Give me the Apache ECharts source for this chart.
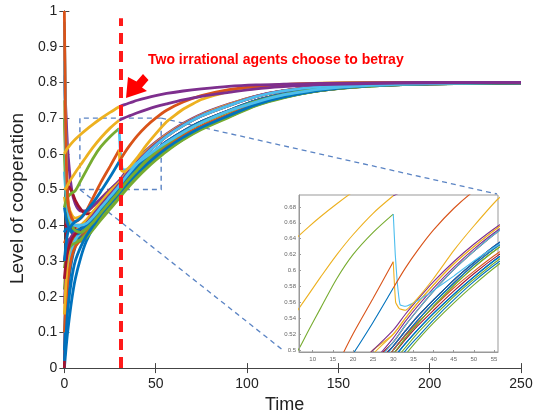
<!DOCTYPE html>
<html lang="en">
<head>
<meta charset="UTF-8">
<title>Level of cooperation</title>
<script src="https://cdn.jsdelivr.net/npm/echarts@6.0.0/dist/echarts.min.js"></script>
<style>
  html, body { margin: 0; padding: 0; background: #fff; }
  #main { width: 536px; height: 419px; }
</style>
</head>
<body>
<div id="main"></div>
<script>
// time samples shared by the bundle of agents
var T = [0, 1, 2, 4, 6, 9, 12, 16, 20, 25, 30, 33, 36, 40, 45, 50, 56, 65, 75, 90, 105, 120, 140, 165, 200, 250];
var tEarly = [0, 1, 2, 4, 6, 9, 12, 16, 20, 25, 30];
var tLate = [30, 33, 36, 40, 45, 50, 56, 65, 75, 90, 105, 120, 140, 165, 200, 250];

var bundleColors = ['B', 'O', 'Y', 'P', 'G', 'C', 'R', 'B', 'O', 'Y', 'P', 'G', 'C', 'R', 'B', 'O', 'Y', 'P', 'G', 'C', 'R', 'B', 'B', 'G', 'C'];
var bundleValues = [
  [0, 0.06, 0.11, 0.19, 0.25, 0.31, 0.355, 0.395, 0.425, 0.455, 0.48, .499, .516, .538, .563, .586, .610, .641, .670, .704, .736, .758, .777, .789, .796, .799],
  [0.95, 0.62, 0.47, 0.41, 0.39, 0.385, 0.395, 0.415, 0.44, 0.47, 0.5, .519, .537, .559, .584, .607, .631, .661, .689, .720, .748, .767, .783, .792, .797, .799],
  [0.75, 0.55, 0.46, 0.43, 0.42, 0.425, 0.435, 0.455, 0.475, 0.5, 0.52, .540, .559, .582, .608, .630, .654, .683, .709, .738, .761, .776, .788, .795, .798, .800],
  [0.82, 0.7, 0.6, 0.5, 0.46, 0.44, 0.44, 0.455, 0.475, 0.5, 0.525, .545, .563, .586, .611, .633, .656, .685, .711, .739, .762, .777, .789, .795, .798, .800],
  [0.22, 0.29, 0.33, 0.35, 0.355, 0.37, 0.39, 0.42, 0.445, 0.47, 0.495, .515, .533, .555, .581, .604, .628, .659, .687, .719, .747, .766, .782, .792, .797, .799],
  [0.97, 0.6, 0.45, 0.4, 0.385, 0.38, 0.385, 0.405, 0.43, 0.46, 0.49, .508, .525, .546, .570, .592, .616, .646, .674, .707, .738, .759, .778, .790, .796, .799],
  [0, 0.33, 0.51, 0.495, 0.47, 0.445, 0.432, 0.435, 0.45, 0.47, 0.495, .513, .530, .550, .574, .596, .619, .649, .676, .708, .739, .760, .778, .790, .796, .799],
  [0.05, 0.15, 0.22, 0.3, 0.34, 0.37, 0.39, 0.415, 0.44, 0.465, 0.49, .508, .525, .546, .570, .592, .616, .646, .674, .707, .738, .759, .778, .790, .796, .799],
  [0.35, 0.36, 0.36, 0.36, 0.365, 0.375, 0.39, 0.415, 0.44, 0.47, 0.5, .519, .537, .559, .584, .607, .631, .661, .689, .720, .748, .767, .783, .792, .797, .799],
  [0.48, 0.45, 0.43, 0.41, 0.4, 0.4, 0.41, 0.43, 0.455, 0.485, 0.51, .531, .550, .574, .601, .624, .649, .679, .706, .735, .760, .776, .788, .795, .798, .800],
  [0.18, 0.27, 0.32, 0.36, 0.38, 0.395, 0.41, 0.43, 0.455, 0.48, 0.505, .524, .542, .563, .588, .610, .634, .663, .690, .721, .749, .767, .783, .792, .797, .799],
  [0.6, 0.48, 0.42, 0.38, 0.36, 0.355, 0.365, 0.39, 0.415, 0.445, 0.475, .494, .512, .534, .559, .582, .607, .639, .668, .702, .735, .757, .777, .789, .796, .799],
  [0.1, 0.2, 0.27, 0.33, 0.36, 0.38, 0.395, 0.42, 0.445, 0.475, 0.5, .519, .537, .559, .584, .607, .631, .661, .689, .720, .748, .767, .783, .792, .797, .799],
  [0.4, 0.4, 0.395, 0.39, 0.39, 0.395, 0.41, 0.43, 0.455, 0.485, 0.51, .531, .550, .574, .601, .624, .649, .679, .706, .735, .760, .776, .788, .795, .798, .800],
  [0.45, 0.42, 0.4, 0.38, 0.375, 0.38, 0.39, 0.415, 0.44, 0.47, 0.5, .519, .537, .559, .584, .607, .631, .661, .689, .720, .748, .767, .783, .792, .797, .799],
  [0.1, 0.19, 0.25, 0.31, 0.34, 0.36, 0.38, 0.41, 0.44, 0.47, 0.5, .518, .534, .554, .578, .599, .622, .651, .678, .710, .740, .760, .778, .790, .796, .799],
  [0.15, 0.25, 0.31, 0.36, 0.38, 0.4, 0.415, 0.44, 0.465, 0.495, 0.52, .540, .559, .582, .608, .630, .654, .683, .709, .738, .761, .776, .788, .795, .798, .800],
  [0.3, 0.33, 0.35, 0.37, 0.38, 0.39, 0.405, 0.43, 0.455, 0.485, 0.515, .536, .555, .578, .604, .627, .651, .681, .707, .736, .761, .776, .788, .795, .798, .800],
  [0.28, 0.31, 0.33, 0.345, 0.35, 0.36, 0.375, 0.4, 0.425, 0.455, 0.485, .503, .521, .542, .567, .589, .613, .644, .672, .705, .737, .758, .777, .789, .796, .799],
  [0.55, 0.48, 0.44, 0.41, 0.4, 0.395, 0.4, 0.42, 0.445, 0.475, 0.505, .524, .542, .563, .588, .610, .634, .663, .690, .721, .749, .767, .783, .792, .797, .799],
  [0.25, 0.3, 0.33, 0.36, 0.375, 0.39, 0.405, 0.425, 0.45, 0.48, 0.505, .524, .542, .563, .588, .610, .634, .663, .690, .721, .749, .767, .783, .792, .797, .799],
  [0.02, 0.1, 0.17, 0.25, 0.3, 0.34, 0.37, 0.4, 0.43, 0.46, 0.49, .508, .525, .546, .570, .592, .616, .646, .674, .707, .738, .759, .778, .790, .796, .799],
  [0.38, 0.39, 0.39, 0.385, 0.385, 0.39, 0.4, 0.42, 0.445, 0.475, 0.505, .524, .542, .563, .588, .610, .634, .663, .690, .721, .749, .767, .783, .792, .797, .799],
  [0.7, 0.52, 0.44, 0.4, 0.385, 0.38, 0.39, 0.41, 0.435, 0.465, 0.495, .515, .533, .555, .581, .604, .628, .659, .687, .719, .747, .766, .782, .792, .797, .799],
  [0.86, 0.55, 0.44, 0.405, 0.4, 0.4, 0.405, 0.425, 0.45, 0.48, 0.51, .531, .550, .574, .601, .624, .649, .679, .706, .735, .760, .776, .788, .795, .798, .800]
];

// agents that stand out, before and after the betrayal at t = 30
var yellowA = [0.6, 0.61, 0.617, 0.63, 0.641, 0.655, 0.668, 0.684, 0.699, 0.716, 0.732];
var purpleA = [.732, .738, .743, .750, .757, .763, .769, .776, .782, .789, .793, .795, .797, .799, .800, .800];
var yellowB = [0.5, 0.505, 0.515, 0.532, 0.548, 0.57, 0.592, 0.62, 0.645, 0.672, 0.694];
var purpleB = [.694, .701, .707, .715, .724, .732, .740, .751, .761, .772, .782, .788, .794, .797, .799, .800];
var greenA = [0.45, 0.47, 0.48, 0.49, 0.497, 0.525, 0.553, 0.59, 0.62, 0.648, 0.671];
var cyanT = [30, 30.5, 31, 31.7, 33, 36, 40, 45, 50, 56, 65, 75, 90, 105, 120, 140, 165, 200, 250];
var cyanA = [0.671, 0.62, 0.585, 0.557, 0.555, 0.562, 0.575, 0.593, 0.612, 0.632, 0.66, 0.687, 0.72, 0.745, 0.765, 0.781, 0.791, 0.797, 0.8];
var orangeT = [0, 0.5, 1, 2, 4, 6, 9, 12, 16, 20, 25, 30];
var orangeA = [1.0, 0.75, 0.6, 0.46, 0.42, 0.41, 0.42, 0.44, 0.48, 0.52, 0.565, 0.611];
var yellowT = [30, 30.6, 31.5, 33, 36, 40, 45, 50, 56, 65, 75, 90, 105, 120, 140, 165, 200, 250];
var yellowC = [0.611, 0.56, 0.552, 0.55, 0.565, 0.59, 0.625, 0.656, 0.69, 0.725, 0.752, 0.775, 0.787, 0.794, 0.798, 0.8, 0.8, 0.8];
var blueA = [0.3, 0.35, 0.38, 0.4, 0.41, 0.42, 0.44, 0.465, 0.495, 0.535, 0.578];
var orangeB = [.578, .603, .625, .651, .678, .700, .722, .745, .763, .780, .789, .794, .797, .799, .800, .800];

var xTicksInset = [10, 15, 20, 25, 30, 35, 40, 45, 50, 55];
var yTicksInset = [0.5, 0.52, 0.54, 0.56, 0.58, 0.6, 0.62, 0.64, 0.66, 0.68];

var palette = { B: '#0072BD', O: '#D95319', Y: '#EDB120', P: '#7E2F8E', G: '#77AC30', C: '#4DBEEE', R: '#A2142F' };
var font = '"Liberation Sans", Arial, sans-serif';

var chart = echarts.init(document.getElementById('main'));
var series = [];

function addLine(ts, vs, key, smooth) {
  var color = palette[key];
  var s = smooth == null ? 0.3 : smooth;
  var d = ts.map(function (t, i) { return [t, vs[i]]; });
  series.push({
    type: 'line', xAxisIndex: 0, yAxisIndex: 0, data: d, symbol: 'none',
    smooth: s, silent: true, z: 2,
    lineStyle: { width: 2.8, color: color }
  });
  series.push({
    type: 'line', xAxisIndex: 2, yAxisIndex: 2, data: d, symbol: 'none',
    smooth: s, silent: true, z: 6, clip: true,
    lineStyle: { width: 1.1, color: color }
  });
}

bundleValues.forEach(function (vals, i) { addLine(T, vals, bundleColors[i]); });
addLine(tEarly, greenA, 'G');
addLine(cyanT, cyanA, 'C', 0.12);
addLine(orangeT, orangeA, 'O');
addLine(yellowT, yellowC, 'Y', 0.12);
addLine(tEarly, blueA, 'B');
addLine(tLate, orangeB, 'O');
addLine(tEarly, yellowB, 'Y');
addLine(tLate, purpleB, 'P');
addLine(tEarly, yellowA, 'Y');
addLine(tLate, purpleA, 'P');

// red dashed marker at the betrayal and the zoom box
series.push({
  type: 'line', xAxisIndex: 0, yAxisIndex: 0, symbol: 'none', silent: true, z: 10,
  data: [[31, 0], [31, 0.98]], lineStyle: { opacity: 0 },
  markLine: {
    silent: true, symbol: ['none', 'none'], label: { show: false },
    lineStyle: { color: '#FF1A1A', width: 4, type: [11, 7] },
    data: [[{ coord: [31, 0] }, { coord: [31, 0.98] }]]
  },
  markArea: {
    silent: true, label: { show: false },
    itemStyle: { color: 'rgba(0,0,0,0)', borderColor: '#5B84C4', borderWidth: 1.4, borderType: [5, 4] },
    data: [[{ coord: [8.5, 0.5] }, { coord: [53, 0.7] }]]
  }
});

var axisCol = '#444';
option = {
  animation: false,
  backgroundColor: '#fff',
  grid: [
    { left: 61, top: 11, width: 460, height: 363 },
    { left: 299, top: 195, width: 199, height: 157, show: true, backgroundColor: '#fff', borderColor: '#999', borderWidth: 1, z: 5 }
  ],
  xAxis: [
    {
      gridIndex: 0, type: 'value', min: 0, max: 250, interval: 50,
      axisLine: { lineStyle: { color: axisCol } },
      axisTick: { inside: true, length: 5, lineStyle: { color: axisCol } },
      axisLabel: { fontSize: 14, color: '#222', margin: 9, fontFamily: font },
      splitLine: { show: false },
      name: 'Time', nameLocation: 'middle', nameGap: 27,
      nameTextStyle: { fontSize: 18, color: '#222', fontFamily: font, padding: [0, 16, 0, 0] }
    },
    {
      gridIndex: 0, type: 'value', position: 'top', min: 0, max: 250, interval: 50,
      axisLine: { lineStyle: { color: axisCol } },
      axisTick: { inside: true, length: 5, lineStyle: { color: axisCol } },
      axisLabel: { show: false }, splitLine: { show: false }
    },
    {
      gridIndex: 1, type: 'value', min: 6.6, max: 56, z: 7,
      axisLine: { lineStyle: { color: '#999' } },
      axisTick: { inside: true, length: 2, customValues: xTicksInset, lineStyle: { color: '#999' } },
      axisLabel: { fontSize: 6, color: '#666', margin: 4, customValues: xTicksInset, fontFamily: font },
      splitLine: { show: false }
    }
  ],
  yAxis: [
    {
      gridIndex: 0, type: 'value', min: 0, max: 1, interval: 0.1,
      axisLine: { show: true, lineStyle: { color: axisCol } },
      axisTick: { show: true, inside: true, length: 5, lineStyle: { color: axisCol } },
      axisLabel: { fontSize: 14, color: '#222', margin: 7, fontFamily: font },
      splitLine: { show: false },
      name: 'Level of cooperation', nameLocation: 'middle', nameGap: 32, nameRotate: 90,
      nameTextStyle: { fontSize: 19, color: '#222', fontFamily: font, padding: [0, 18, 0, 0] }
    },
    {
      gridIndex: 0, type: 'value', position: 'right', min: 0, max: 1, interval: 0.1,
      axisLine: { show: true, lineStyle: { color: axisCol } },
      axisTick: { show: true, inside: true, length: 5, lineStyle: { color: axisCol } },
      axisLabel: { show: false }, splitLine: { show: false }
    },
    {
      gridIndex: 1, type: 'value', min: 0.4975, max: 0.695, z: 7,
      axisLine: { show: true, lineStyle: { color: '#999' } },
      axisTick: { show: true, inside: true, length: 2, customValues: yTicksInset, lineStyle: { color: '#999' } },
      axisLabel: { fontSize: 6, color: '#666', margin: 3, customValues: yTicksInset, fontFamily: font },
      splitLine: { show: false }
    }
  ],
  series: series
};
chart.setOption(option);

// annotation, arrow and the dashed leaders from the zoom box to the inset
var p1 = chart.convertToPixel({ gridIndex: 0 }, [8.5, 0.5]);
var p2 = chart.convertToPixel({ gridIndex: 0 }, [53, 0.7]);
var leader = { stroke: '#5B84C4', lineWidth: 1.3, lineDash: [5, 4] };
chart.setOption({
  graphic: [
    { type: 'line', z: 1, shape: { x1: p1[0], y1: p1[1], x2: 284, y2: 351 }, style: leader, silent: true },
    { type: 'line', z: 1, shape: { x1: p2[0], y1: p2[1], x2: 497, y2: 194 }, style: leader, silent: true },
    {
      type: 'polygon', z: 20, silent: true,
      shape: { points: [[126, 98], [128, 77], [136.5, 81.5], [143, 74], [148.5, 80], [142, 87.5], [147, 91]] },
      style: { fill: '#FF0000' }
    },
    {
      type: 'text', z: 20, left: 148, top: 53, silent: true,
      style: { text: 'Two irrational agents choose to betray', fill: '#FF0000', font: 'bold 14px ' + font }
    }
  ]
});
</script>
</body>
</html>
